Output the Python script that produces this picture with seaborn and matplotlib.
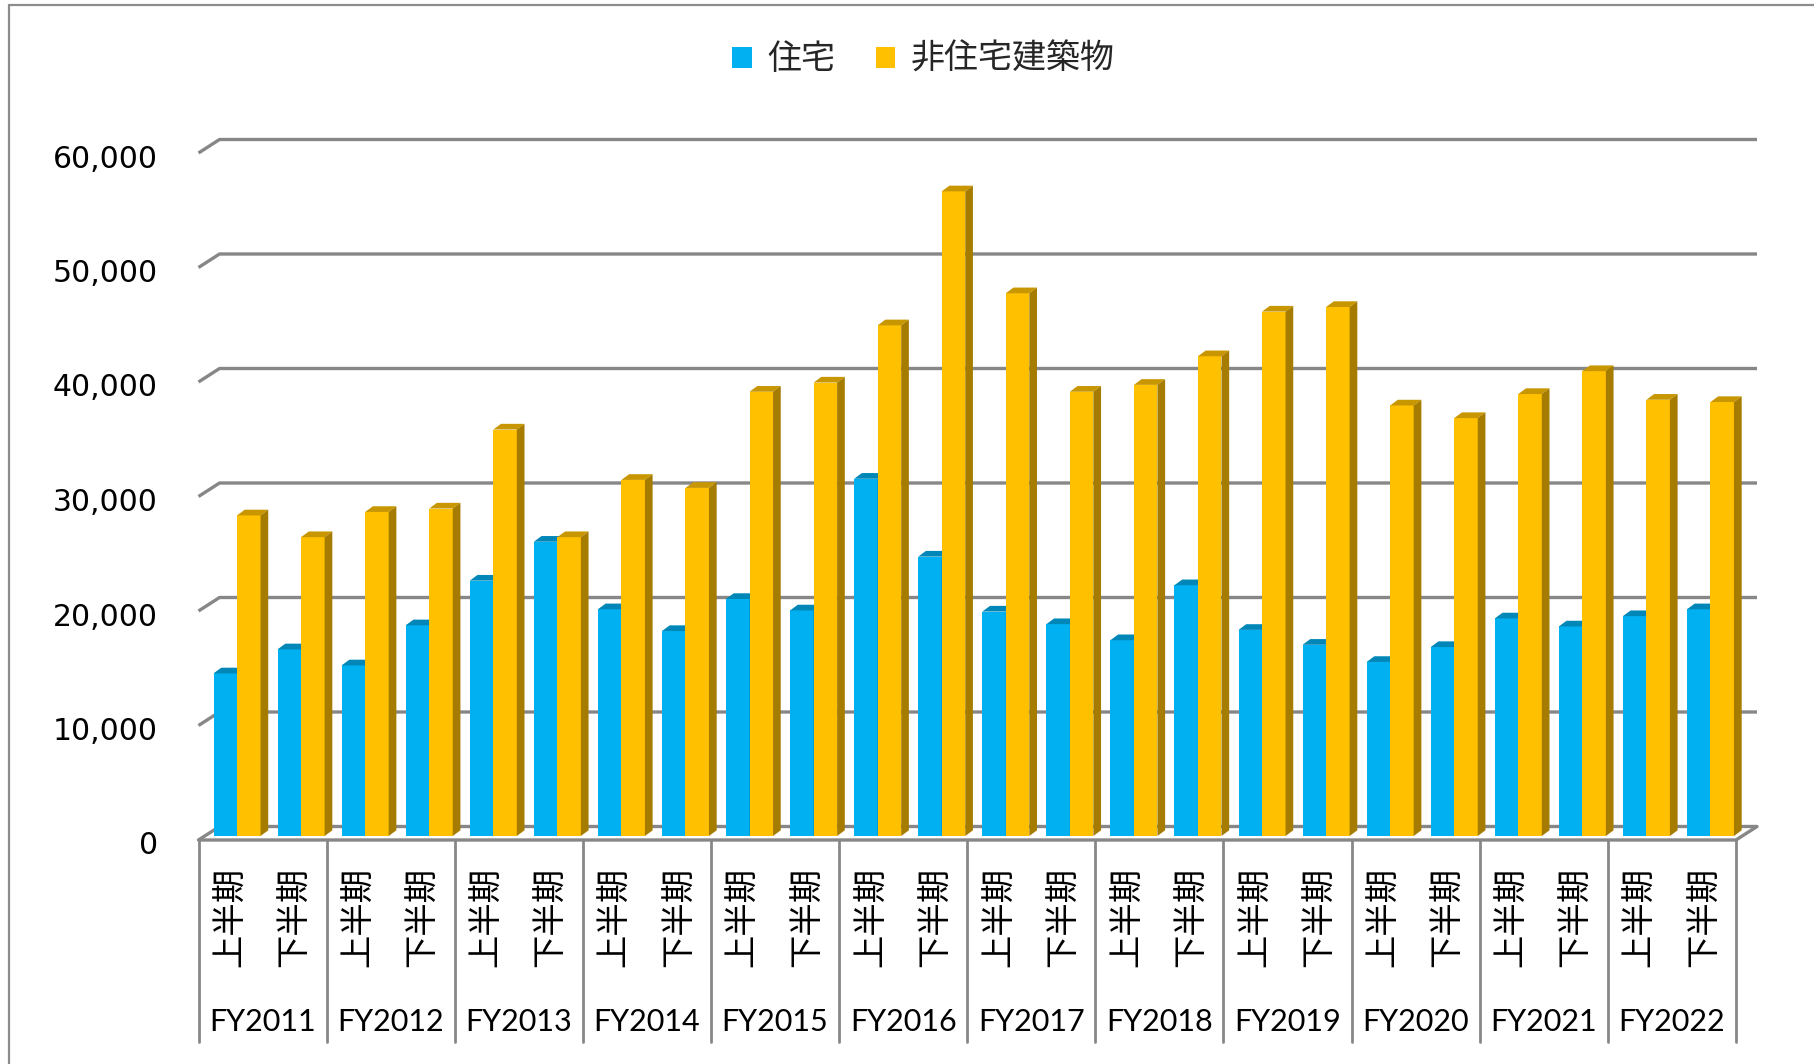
import numpy as np
import pandas as pd
import matplotlib
matplotlib.use("Agg")
import matplotlib.pyplot as plt
import seaborn as sns
from matplotlib.transforms import ScaledTranslation
from matplotlib.patches import Polygon, Patch
from matplotlib.lines import Line2D
from matplotlib.colors import to_hex

# ---------------- data ----------------
fiscal_years = ["FY2011", "FY2012", "FY2013", "FY2014", "FY2015", "FY2016",
                "FY2017", "FY2018", "FY2019", "FY2020", "FY2021", "FY2022"]
halves = ["上半期", "下半期"]
series_names = ["住宅", "非住宅建築物"]
housing = [14200, 16300, 14900, 18400, 22300, 25700, 19800, 17900, 20700, 19700,
           31200, 24400, 19600, 18500, 17100, 21900, 18000, 16700, 15200, 16500,
           19000, 18300, 19200, 19800]
non_housing = [28000, 26100, 28300, 28600, 35500, 26100, 31100, 30400, 38800, 39600,
               44600, 56300, 47400, 38800, 39400, 41900, 45800, 46200, 37600, 36500,
               38600, 40600, 38100, 37900]
y_ticks = [0, 10000, 20000, 30000, 40000, 50000, 60000]

front_colors = ["#00B0F0", "#FFC000"]
top_colors = ["#0087B8", "#C89600"]
side_colors = ["#0080AE", "#A67C00"]
grid_color = "#878787"

# ---------------- theme ----------------
sns.set_theme(style="white")
plt.rcParams["font.family"] = ["Noto Sans CJK JP", "DejaVu Sans"]

periods = [f"{fy}{h}" for fy in fiscal_years for h in halves]
df = pd.DataFrame({
    "period": periods * 2,
    "series": [series_names[0]] * len(periods) + [series_names[1]] * len(periods),
    "value": housing + non_housing,
})

W, H = 1814, 1064
fig = plt.figure(figsize=(W / 100, H / 100), dpi=100)
ax = fig.add_axes([205 / W, 1 - 836 / H, 1537.5 / W, 687 / H])

sns.barplot(data=df, x="period", y="value", hue="series", order=periods,
            hue_order=series_names, palette=front_colors, width=0.734,
            saturation=1, ax=ax, legend=False, edgecolor="none", linewidth=0)

n = len(periods)
ax.set_xlim(-0.5, n - 0.5)
ax.set_ylim(0, 60000)
for s in ax.spines.values():
    s.set_visible(False)
ax.grid(False)
ax.set_xlabel("")
ax.set_ylabel("")
ax.patch.set_alpha(0)

# offsets in display pixels
FRONT = np.array([-6.5, -4.0])
BACK = np.array([14.5, 9.5])
BAR_D = np.array([7.7, 5.7])


def disp(x, y):
    return np.array(ax.transData.transform((x, y)))


def tofig(pts):
    pts = np.asarray(pts, dtype=float)
    return np.column_stack([pts[:, 0] / W, pts[:, 1] / H])


# ---------------- 3D faces on bars ----------------
for p in list(ax.patches):
    fc = to_hex(p.get_facecolor())
    idx = 0 if fc.lower() == front_colors[0].lower() else 1
    z = 3 + idx
    p.set_zorder(z)
    x0, w, h = p.get_x(), p.get_width(), p.get_height()
    X0, Y0 = disp(x0, 0)
    X1, Y1 = disp(x0 + w, h)
    dx, dy = BAR_D
    top = [(X0, Y1), (X1, Y1), (X1 + dx, Y1 + dy), (X0 + dx, Y1 + dy)]
    side = [(X1, Y0), (X1, Y1), (X1 + dx, Y1 + dy), (X1 + dx, Y0 + dy)]
    ax.add_patch(Polygon(tofig(top), closed=True, facecolor=top_colors[idx],
                         edgecolor="none", transform=fig.transFigure,
                         clip_on=False, zorder=z))
    ax.add_patch(Polygon(tofig(side), closed=True, facecolor=side_colors[idx],
                         edgecolor="none", transform=fig.transFigure,
                         clip_on=False, zorder=z))

# ---------------- gridlines on back wall ----------------
for v in y_ticks:
    fl = disp(-0.5, v) + FRONT
    bl = disp(-0.5, v) + BACK
    br = disp(n - 0.5, v) + BACK
    pts = tofig([fl, bl, br])
    ax.add_line(Line2D(pts[:, 0], pts[:, 1], color=grid_color, lw=2.4,
                       transform=fig.transFigure, clip_on=False, zorder=1,
                       solid_capstyle="butt"))

# front floor edge
fl = disp(-0.5, 0) + FRONT
fr = disp(n - 0.5, 0) + FRONT
br = disp(n - 0.5, 0) + BACK
pts = tofig([fl, fr, br])
ax.add_line(Line2D(pts[:, 0], pts[:, 1], color=grid_color, lw=2.4,
                   transform=fig.transFigure, clip_on=False, zorder=5))

# group separators
for b in np.arange(-0.5, n, 2):
    t = disp(b, 0) + FRONT
    bt = t - np.array([0, 202])
    pts = tofig([t, bt])
    ax.add_line(Line2D(pts[:, 0], pts[:, 1], color=grid_color, lw=2.0,
                       transform=fig.transFigure, clip_on=False, zorder=5))

# ---------------- tick labels ----------------
ax.set_xticks(range(n))
ax.set_xticklabels(halves * len(fiscal_years), rotation=90, fontsize=24,
                   va="top", ha="center")
ax.tick_params(axis="x", length=0, pad=19)
ax.set_yticks(y_ticks)
ax.set_yticklabels([f"{v:,}" for v in y_ticks], fontsize=21.5,
                   family=["DejaVu Sans"])
ax.tick_params(axis="y", length=0, pad=34)

off_front = ScaledTranslation(FRONT[0] / 100, FRONT[1] / 100, fig.dpi_scale_trans)
for lab in ax.get_xticklabels():
    lab.set_transform(lab.get_transform() + off_front)
off_y = ScaledTranslation(0, -7 / 100, fig.dpi_scale_trans)
for lab in ax.get_yticklabels():
    lab.set_transform(lab.get_transform() + off_y)
    lab.set_color("black")
for lab in ax.get_xticklabels():
    lab.set_color("black")

# fiscal-year labels
for i, fy in enumerate(fiscal_years):
    cx = disp(2 * i + 0.5, 0)[0] + FRONT[0]
    fig.text(cx / W, 42 / H, fy, ha="center", va="center", fontsize=22,
             family=["Lato", "DejaVu Sans"], color="black")

# ---------------- legend ----------------
handles = [Patch(facecolor=c, edgecolor="none") for c in front_colors]
fig.legend(handles=handles, labels=series_names, loc="center",
           bbox_to_anchor=(0.509, 0.944), ncol=2, frameon=False, fontsize=24.5,
           handlelength=0.57, handleheight=0.57, handletextpad=0.45,
           columnspacing=1.2)

# ---------------- outer border ----------------
bx, by = 9 / W, 1 - 5 / H
fig.add_artist(Line2D([bx, bx], [0, by], color="#8c8c8c", lw=1.6,
                      transform=fig.transFigure))
fig.add_artist(Line2D([bx, 1], [by, by], color="#8c8c8c", lw=1.6,
                      transform=fig.transFigure))

fig.savefig("out.png", dpi=100)
